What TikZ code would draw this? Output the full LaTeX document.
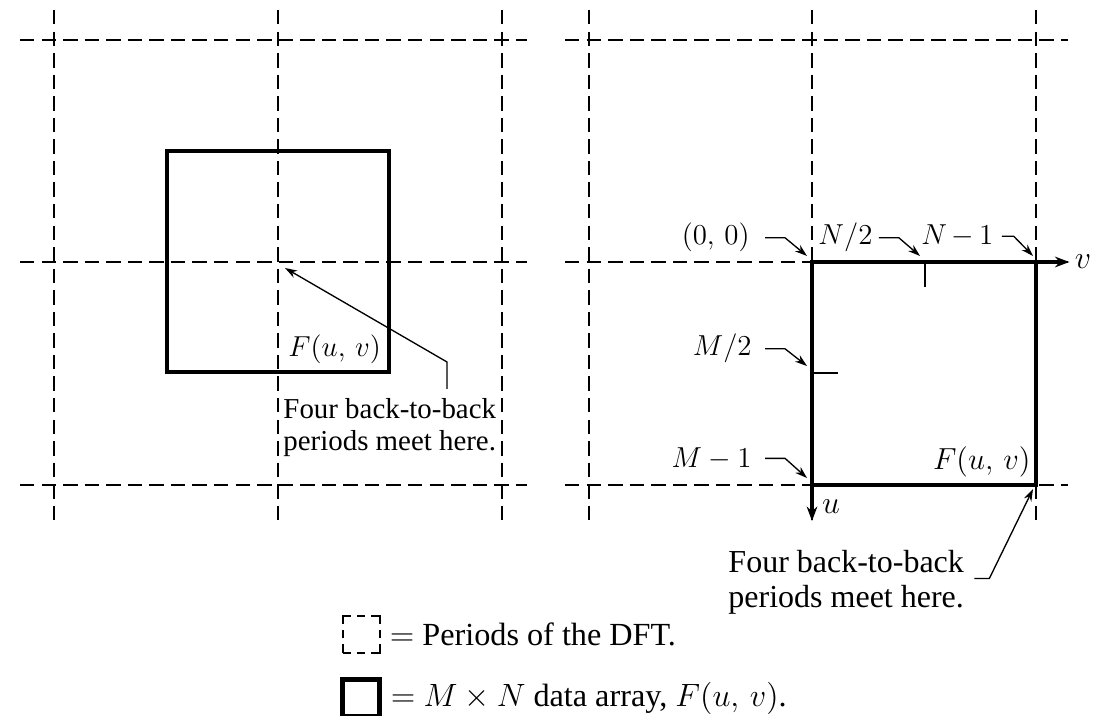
\RequirePackage{fix-cm}
\documentclass[tikz,border=0pt]{standalone}
\usepackage{amsmath}
\usepackage{fontspec}
\setmainfont{Liberation Serif}
\usepackage{tikz}
\usetikzlibrary{calc, arrows.meta, positioning}

\tikzset{
    period/.style={line width=0.9pt, dash pattern=on 6.5pt off 3.2pt},
    dataarr/.style={line width=1.9pt},
    axis/.style={line width=1.9pt, -{Stealth[length=6.5pt,width=4.8pt]}},
    lbl/.style={font=\fontsize{13}{15}\selectfont, inner sep=0pt},
    legbox/.style={draw, minimum size=16.65pt, inner sep=0pt}
}

\begin{document}
\begin{tikzpicture}[x=0.45pt, y=-0.45pt, >={Stealth[length=5.5pt,width=3.6pt]}]
    \useasboundingbox (0,0) rectangle (1102,716);

    % Các chu kỳ của DFT (hai hình)
    \foreach \x in {54, 278, 502, 589, 812, 1036}
        \draw[period] (\x,10) -- (\x,522);
    \foreach \y in {40, 262, 485} {
        \draw[period] (20,\y) -- (527,\y);
        \draw[period] (565,\y) -- (1068,\y);
    }

    % Hình trái: mảng dữ liệu lệch tâm
    \draw[dataarr] (167,151) rectangle (389,372);
    \node[lbl, anchor=base west] (FL) at (288,357) {$F(u,\,v)$};
    \coordinate (meetL) at (285,268);
    \node[lbl, align=left, anchor=north west, font=\fontsize{13}{14.4}\selectfont] (txtL) at (283,398)
        {Four back-to-back\\periods meet here.};
    \draw[->, line width=0.6pt] ($(txtL.north west)+(164,-9)$) -- ++(0,-27) -- (meetL);

    % Hình phải: mảng M x N bắt đầu tại gốc
    \coordinate (O) at (812,262);
    \coordinate (TR) at (1036,262);
    \coordinate (BL) at (812,485);
    \draw[dataarr] (O) rectangle (1036,485);
    \draw[line width=1pt] (925,262) -- (925,287);   % N/2
    \draw[line width=1pt] (812,373) -- (838,373);   % M/2

    % Các trục u, v
    \node[lbl, font=\fontsize{14.4}{15}\selectfont] (vlab) at (1083,262) {$v$};
    \node[lbl, font=\fontsize{14.4}{15}\selectfont] (ulab) at (831,507) {$u$};
    \coordinate (uend) at (812,521);
    \draw[axis] (TR) -- ($(vlab.west)+(-5,0)$);
    \draw[axis] (BL) -- (uend);

    % Nhãn với mũi tên móc
    \node[lbl, anchor=base east] (l00) at (750,245) {$(0,\,0)$};
    \node[lbl, anchor=base west] (lN2) at (818,245) {$N/2$};
    \node[lbl, anchor=base west] (lN1) at (921,245) {$N\,{-}\,1$};
    \node[lbl, anchor=base east] (lM2) at (752,356) {$M/2$};
    \node[lbl, anchor=base east] (lM1) at (752,467) {$M - 1$};
    \draw[->, line width=0.6pt] ($(l00.east)+(15,0)$) -- ++(20,0) -- (807,256);
    \draw[->, line width=0.6pt] ($(lN2.east)+(6,0)$) -- ++(20,0) -- (920,256);
    \draw[->, line width=0.6pt] ($(lN1.east)+(8,0)$) -- ++(12,0) -- (1033,256);
    \draw[->, line width=0.6pt] ($(lM2.east)+(13,0)$) -- ++(20,0) -- (807,366);
    \draw[->, line width=0.6pt] ($(lM1.east)+(13,0)$) -- ++(20,0) -- (807,478);

    \node[lbl, font=\fontsize{13.7}{15}\selectfont, anchor=base east] (FR) at (1031,469) {$F(u,\,v)$};
    \coordinate (meetR) at (1033,489);
    \node[lbl, align=left, anchor=north west, font=\fontsize{14.4}{15.75}\selectfont] (txtR) at (728,550)
        {Four back-to-back\\periods meet here.};
    \draw[->, line width=0.6pt] ($(txtR.east)+(10,-4)$) -- ++(15,0) -- (meetR);

    % Chú thích
    \node[legbox, line width=0.9pt, dash pattern=on 7.65pt off 2.7pt on 3.6pt off 2.7pt,
        dash phase=3.8pt] (iconP) at (361,634) {};
    \node[legbox, dataarr] (iconA) at (361,698) {};
    \node[lbl, font=\fontsize{14.5}{16}\selectfont, right=4pt of iconP] (legP) {$=$ Periods of the DFT.};
    \node[lbl, font=\fontsize{14.5}{16}\selectfont, right=4pt of iconA] (legA) {$=$ $M \times N$ data array, $F(u,\,v)$.};
\end{tikzpicture}
\end{document}
